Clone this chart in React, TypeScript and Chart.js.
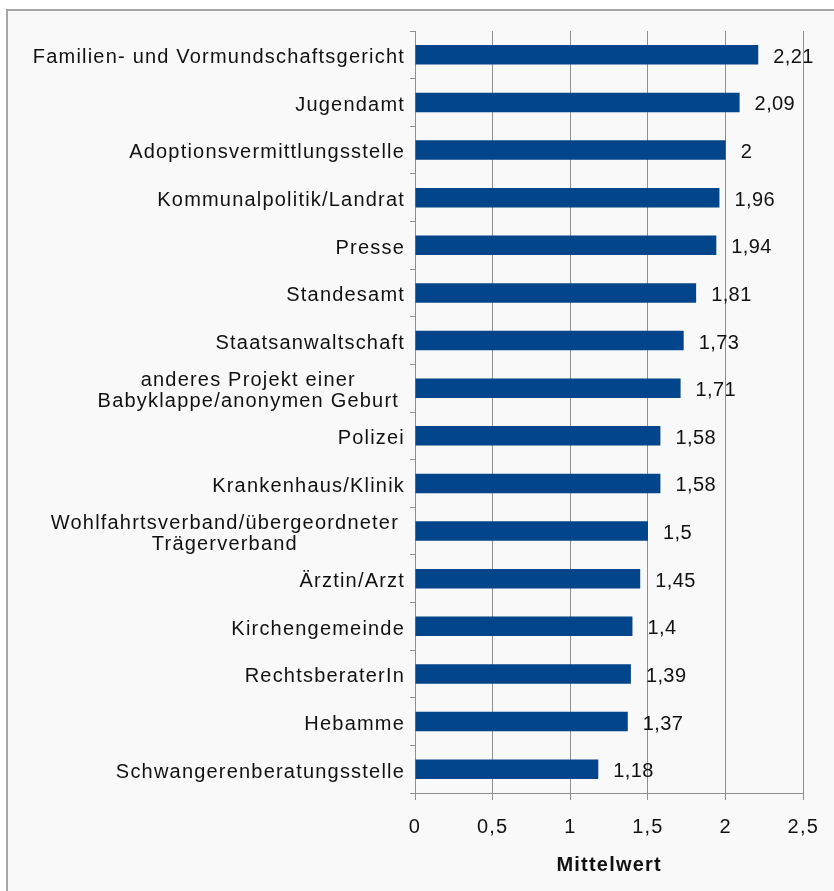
import { useEffect, useRef } from 'react';
import { Chart, registerables } from 'chart.js';

Chart.register(...registerables);

const categories: (string | string[])[] = [
  'Familien- und Vormundschaftsgericht',
  'Jugendamt',
  'Adoptionsvermittlungsstelle',
  'Kommunalpolitik/Landrat',
  'Presse',
  'Standesamt',
  'Staatsanwaltschaft',
  ['anderes Projekt einer', 'Babyklappe/anonymen Geburt'],
  'Polizei',
  'Krankenhaus/Klinik',
  ['Wohlfahrtsverband/übergeordneter', 'Trägerverband'],
  'Ärztin/Arzt',
  'Kirchengemeinde',
  'RechtsberaterIn',
  'Hebamme',
  'Schwangerenberatungsstelle',
];

const values: number[] = [2.21, 2.09, 2, 1.96, 1.94, 1.81, 1.73, 1.71, 1.58, 1.58, 1.5, 1.45, 1.4, 1.39, 1.37, 1.18];

const xTicks: number[] = [0, 0.5, 1, 1.5, 2, 2.5];

const axisTitle = 'Mittelwert';

const FONT = '"Liberation Sans", Arial, sans-serif';
const SPACING = '1.2px';

const fmt = (v: number) => String(v).replace('.', ',');

const spacingPlugin = {
  id: 'letterSpacing',
  afterInit(chart: any) {
    chart.ctx.letterSpacing = SPACING;
  },
  beforeUpdate(chart: any) {
    chart.ctx.letterSpacing = SPACING;
  },
  beforeDraw(chart: any) {
    chart.ctx.letterSpacing = SPACING;
  },
};

const labelPlugin = {
  id: 'labels',
  afterDraw(chart: any) {
    const ctx = chart.ctx as CanvasRenderingContext2D;
    const yScale = chart.scales.y;
    const left = chart.chartArea.left;
    ctx.save();
    (ctx as any).letterSpacing = SPACING;
    ctx.font = `20px ${FONT}`;
    ctx.fillStyle = '#111111';
    ctx.textBaseline = 'middle';
    categories.forEach((lab, i) => {
      const cy = yScale.getPixelForValue(i) + 2.8;
      if (Array.isArray(lab)) {
        const w = Math.max(...lab.map((l) => ctx.measureText(l).width));
        const cx = left - 16 - w / 2;
        ctx.textAlign = 'center';
        lab.forEach((l, j) => {
          ctx.fillText(l, cx, cy + (j - (lab.length - 1) / 2) * 21.5);
        });
      } else {
        ctx.textAlign = 'right';
        ctx.fillText(lab, left - 10, cy);
      }
    });
    const meta = chart.getDatasetMeta(0);
    ctx.textAlign = 'left';
    (ctx as any).letterSpacing = '0.4px';
    meta.data.forEach((bar: any, i: number) => {
      ctx.fillText(fmt(values[i]), bar.x + 15, bar.y + 2.5);
    });
    ctx.restore();
  },
};

export default function App() {
  const ref = useRef<HTMLCanvasElement | null>(null);

  useEffect(() => {
    if (!ref.current) return;
    const chart = new Chart(ref.current, {
      type: 'bar',
      data: {
        labels: categories as any,
        datasets: [
          {
            data: values,
            backgroundColor: '#03458A',
            borderWidth: 0,
            barPercentage: 0.41,
            categoryPercentage: 1,
          },
        ],
      },
      options: {
        indexAxis: 'y',
        animation: false,
        responsive: false,
        devicePixelRatio: 1,
        layout: { padding: { top: 31, right: 29, bottom: 0, left: 0 } },
        plugins: {
          legend: { display: false },
          tooltip: { enabled: false },
        },
        scales: {
          x: {
            type: 'linear',
            min: 0,
            max: 2.5,
            afterBuildTicks: (scale: any) => {
              scale.ticks = xTicks.map((v) => ({ value: v }));
            },
            afterFit: (scale: any) => {
              scale.height = 98;
            },
            ticks: {
              callback: (v: any) => fmt(Number(v)),
              font: { size: 20, family: FONT },
              color: '#111111',
              padding: 15,
              maxRotation: 0,
            },
            grid: { color: '#8f8f8f', lineWidth: 1, tickLength: 7 },
            border: { color: '#8f8f8f', width: 1 },
            title: {
              display: true,
              text: axisTitle,
              font: { size: 20, weight: 'bold', family: FONT },
              color: '#111111',
              padding: { top: 0, bottom: 14 },
            },
          },
          y: {
            type: 'category',
            afterFit: (scale: any) => {
              scale.width = 415;
            },
            ticks: { display: false },
            grid: {
              drawOnChartArea: false,
              offset: true,
              tickLength: 5,
              color: '#8f8f8f',
            },
            border: { color: '#8f8f8f', width: 1 },
          },
        },
      } as any,
      plugins: [spacingPlugin, labelPlugin],
    });
    return () => chart.destroy();
  }, []);

  return (
    <div
      style={{
        position: 'absolute',
        left: 0,
        top: 0,
        width: 834,
        height: 891,
        overflow: 'hidden',
        background: '#ffffff',
      }}
    >
      <div
        style={{
          position: 'absolute',
          left: 6,
          top: 9,
          width: 900,
          height: 950,
          borderLeft: '2px solid #a6a6a6',
          borderTop: '2px solid #a6a6a6',
          background: '#f9f9f9',
        }}
      />
      <canvas
        ref={ref}
        width={834}
        height={891}
        style={{ position: 'absolute', left: 0, top: 0, width: 834, height: 891, display: 'block' }}
      />
    </div>
  );
}
